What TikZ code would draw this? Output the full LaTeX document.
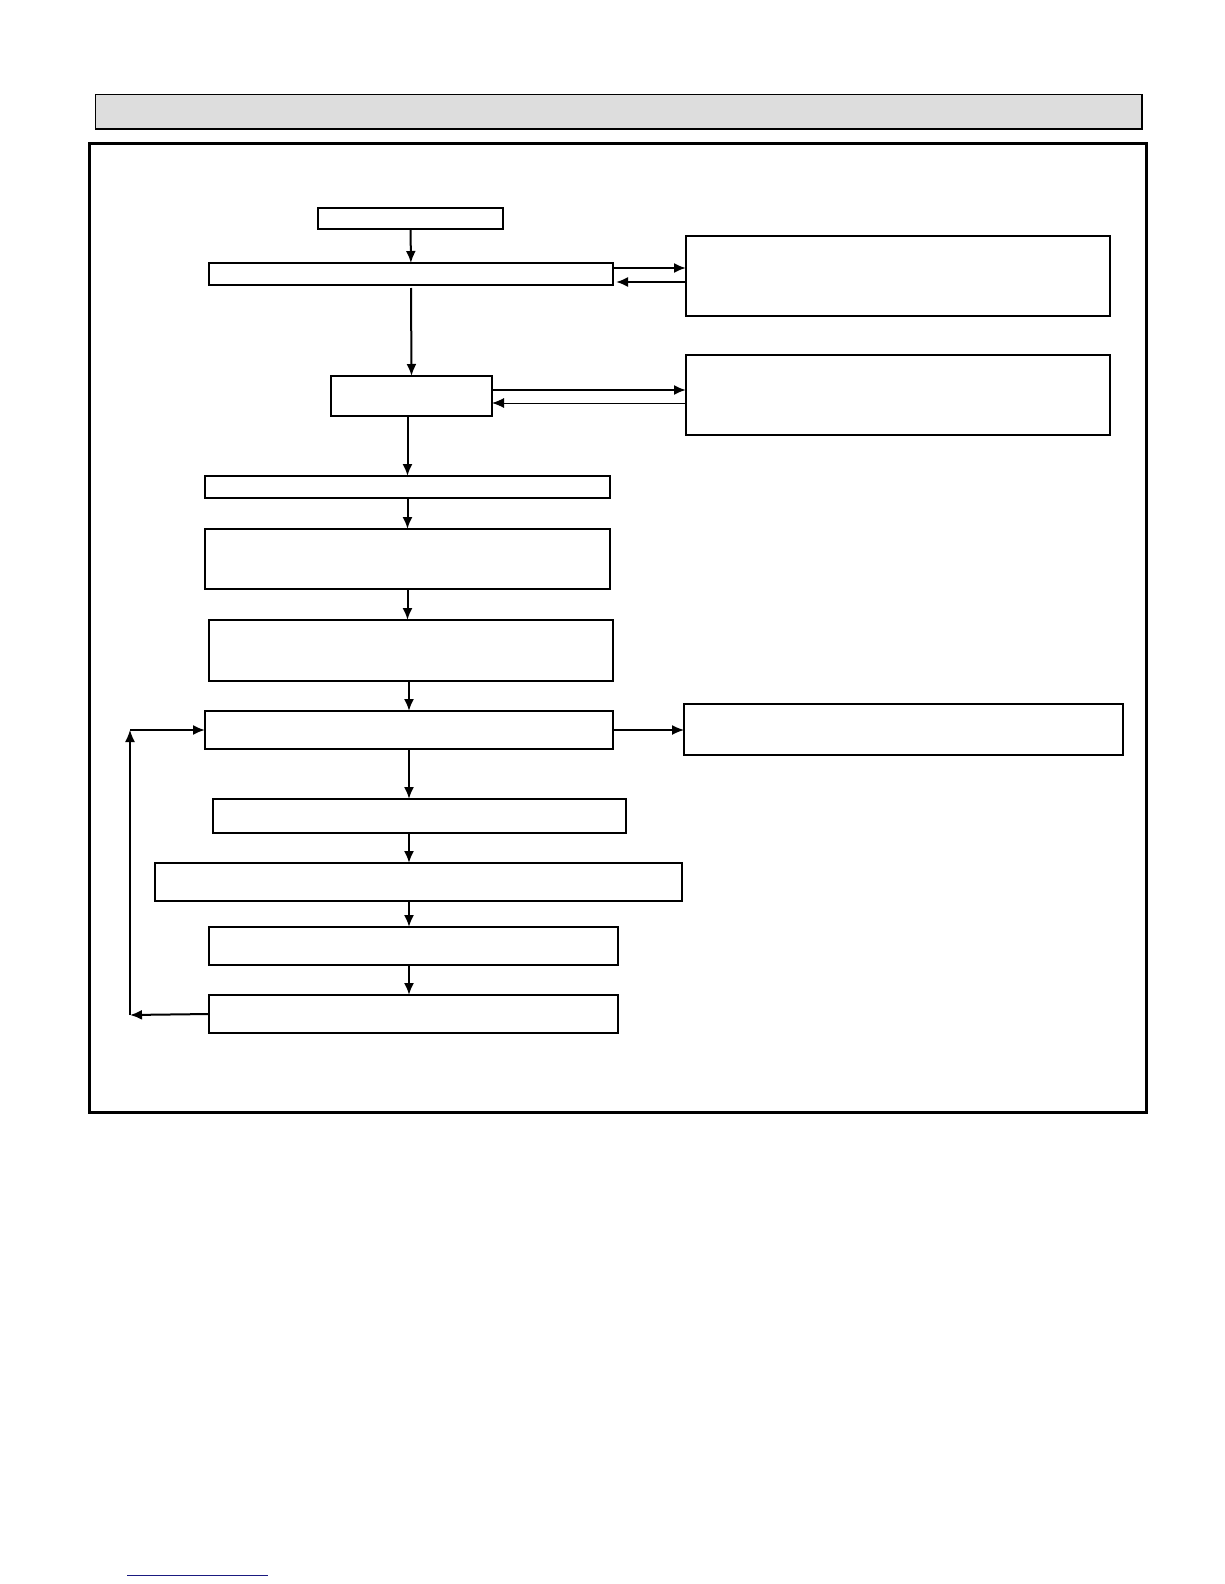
\documentclass[tikz,border=0pt]{standalone}
\usetikzlibrary{arrows.meta}
\definecolor{headgray}{HTML}{DDDDDD}
\definecolor{linkblue}{HTML}{1A1A80}
\tikzset{
  stepbox/.style={draw,line width=2pt,inner sep=0pt,outer sep=0pt},
  flow/.style={line width=2pt,-{Latex[length=12pt,width=10pt]}},
  thinflow/.style={line width=1.4pt,-{Latex[length=12pt,width=10pt]}}
}
\begin{document}
\begin{tikzpicture}[x=1pt,y=-1pt]
\useasboundingbox (0,0) rectangle (1224,1584);
% title bar and frame
\draw[fill=headgray,line width=1pt] (95,95) rectangle (1142,129);
\draw[line width=2.5pt] (95,129) -- (1142,129) -- (1142,95);
\draw[line width=3pt] (89,143) rectangle (1146,1112);
% main column
\node[stepbox,minimum width=185pt,minimum height=21pt] (start) at (410.5,218.5) {};
\node[stepbox,minimum width=404pt,minimum height=22pt] (check) at (411,274) {};
\node[stepbox,minimum width=161pt,minimum height=40pt] (test) at (411.5,396) {};
\node[stepbox,minimum width=405pt,minimum height=22pt] (prep) at (407.5,487) {};
\node[stepbox,minimum width=405pt,minimum height=60pt] (setup) at (407.5,559) {};
\node[stepbox,minimum width=404pt,minimum height=61pt] (adjust) at (411,650.5) {};
\node[stepbox,minimum width=408pt,minimum height=38pt] (run) at (409,730) {};
\node[stepbox,minimum width=413pt,minimum height=34pt] (read) at (419.5,816) {};
\node[stepbox,minimum width=527pt,minimum height=38pt] (compare) at (418.5,882) {};
\node[stepbox,minimum width=409pt,minimum height=38pt] (record) at (413.5,946) {};
\node[stepbox,minimum width=409pt,minimum height=38pt] (repeat) at (413.5,1014) {};
% side boxes
\node[stepbox,minimum width=424pt,minimum height=80pt] (sideA) at (898,276) {};
\node[stepbox,minimum width=424pt,minimum height=80pt] (sideB) at (898,395) {};
\node[stepbox,minimum width=439pt,minimum height=51pt] (sideC) at (903.5,729.5) {};
% down arrows
\draw[flow] (start) -- (check);
\draw[flow] ([yshift=-3pt]check.south) -- (test.north);
\draw[flow] (test.south -| prep.north) -- (prep.north);
\draw[flow] (prep) -- (setup);
\draw[flow] (setup.south) -- (setup.south |- adjust.north);
\draw[flow] (adjust.south -| run.north) -- (run.north);
\draw[flow] (run.south) -- (run.south |- read.north);
\draw[flow] (run.south |- read.south) -- (run.south |- compare.north);
\draw[flow] (run.south |- compare.south) -- (run.south |- record.north);
\draw[flow] (run.south |- record.south) -- (run.south |- repeat.north);
% side arrows
\draw[flow] ([yshift=6pt]check.east) -- ([yshift=6pt]check.east -| sideA.west);
\draw[flow] ([yshift=-8pt]check.east -| sideA.west) -- ([yshift=-8pt,xshift=3pt]check.east);
\draw[flow] ([yshift=6pt]test.east) -- ([yshift=6pt]test.east -| sideB.west);
\draw[line width=1pt,-{Latex[length=12pt,width=10pt]}] ([yshift=-7pt]test.east -| sideB.west) -- ([yshift=-7pt]test.east);
\draw[thinflow] (run.east) -- (run.east -| sideC.west);
% loop back
\coordinate (loopB) at (130,1015);
\coordinate (loopT) at (130,730);
\draw[flow] (repeat.west) -- (loopB);
\draw[thinflow] (loopB) -- (loopT);
\draw[flow] (loopT) -- (run.west);
% link underline
\draw[linkblue,line width=1pt] (127,1575) -- (268,1575);
\end{tikzpicture}
\end{document}
